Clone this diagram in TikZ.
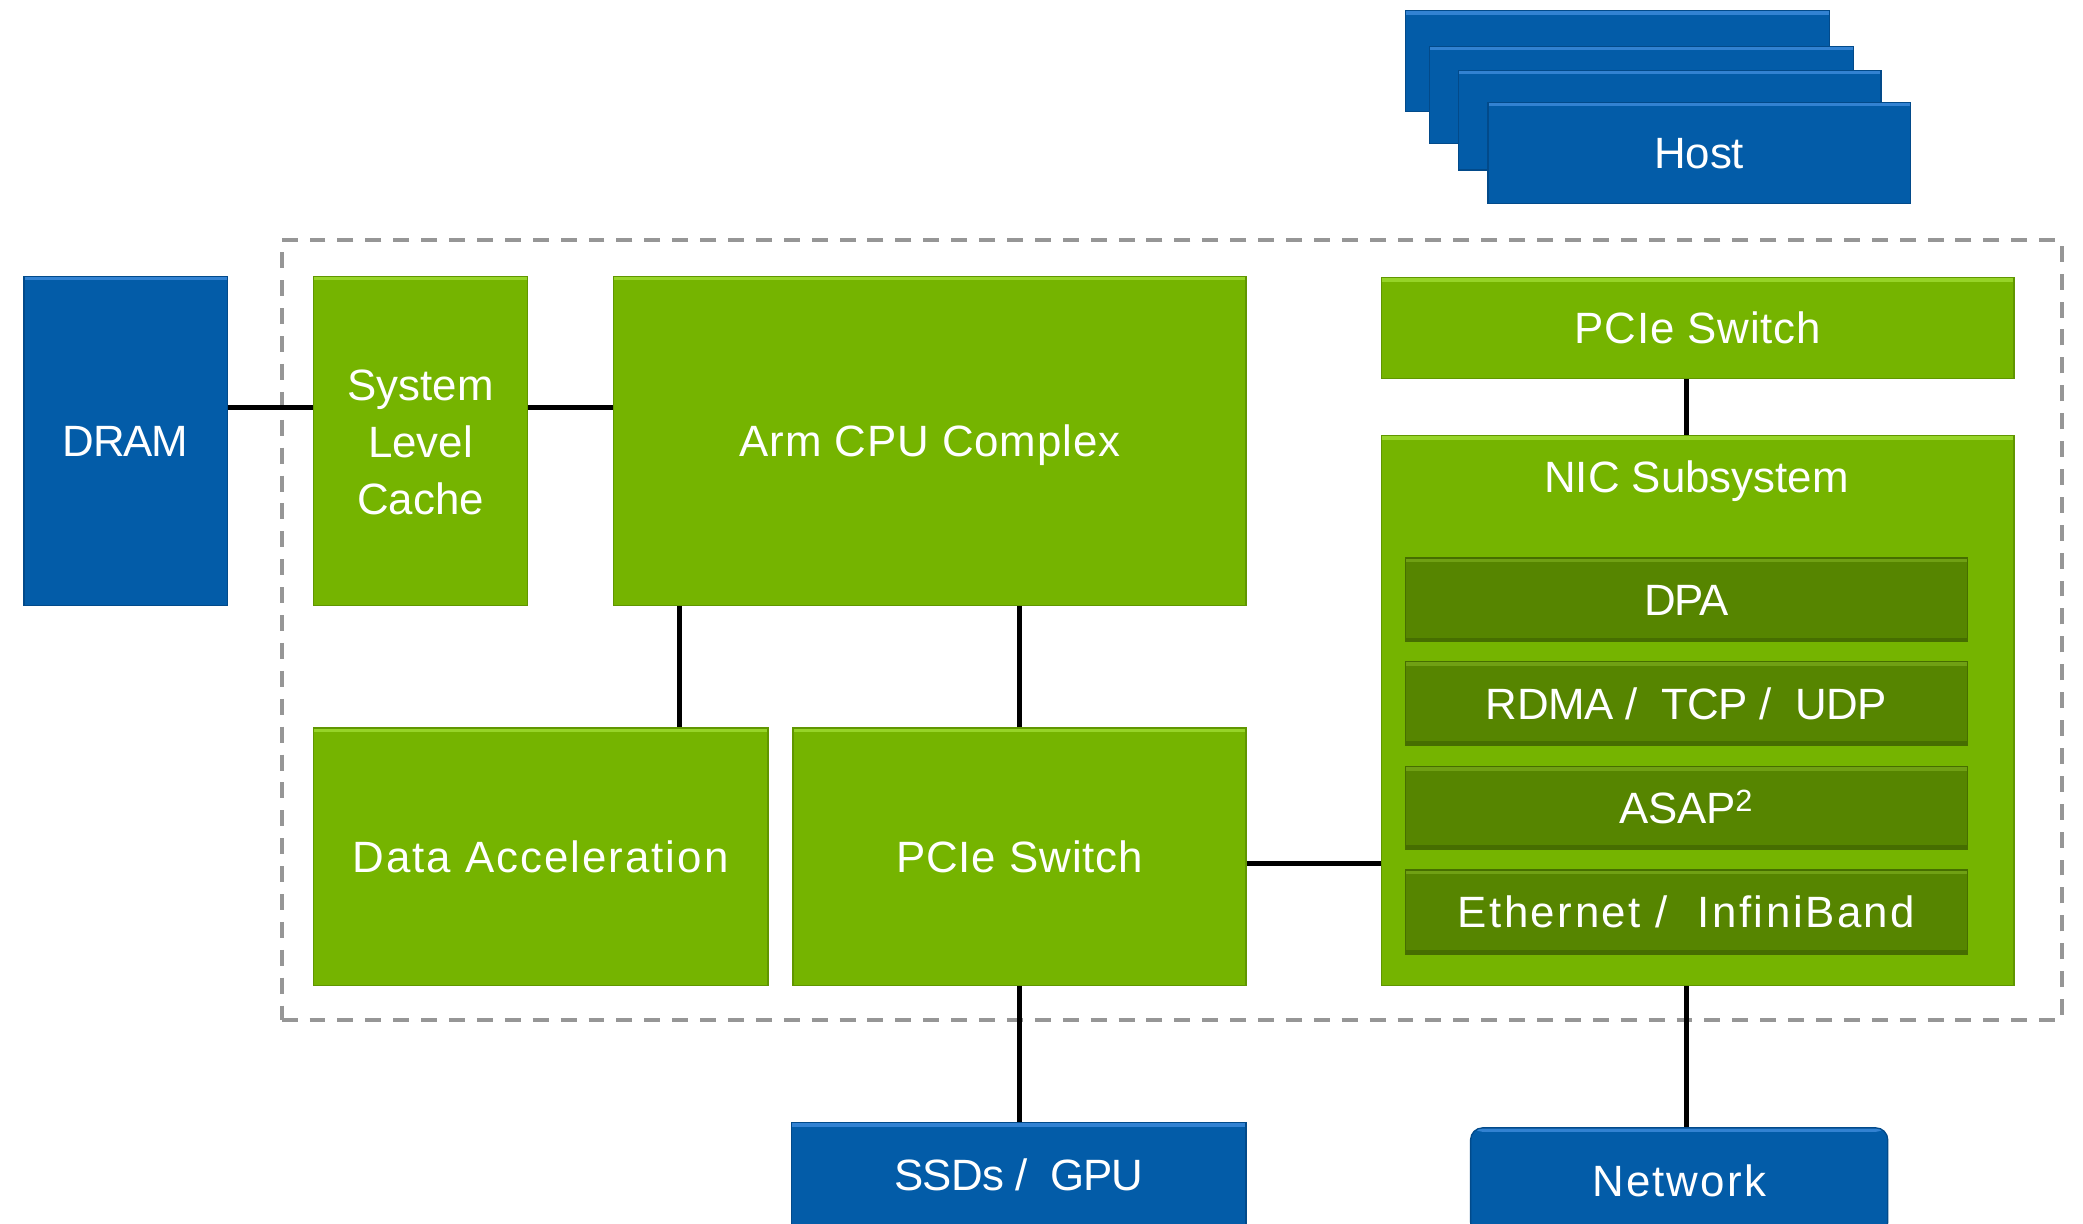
\documentclass[tikz,border=0pt]{standalone}
\usepackage{fontspec}
\setmainfont{Liberation Sans}
\usetikzlibrary{calc}

\definecolor{nvgreen}{RGB}{117,180,0}
\definecolor{nvgreenhi}{RGB}{150,212,40}
\definecolor{nvgreenedge}{RGB}{96,150,0}
\definecolor{nvdark}{RGB}{86,133,0}
\definecolor{nvdarkhi}{RGB}{112,160,20}
\definecolor{nvdarkedge}{RGB}{70,110,0}
\definecolor{nvblue}{RGB}{3,92,168}
\definecolor{nvbluehi}{RGB}{50,130,210}
\definecolor{nvblueedge}{RGB}{2,74,138}
\definecolor{framegray}{RGB}{150,150,150}

% tracked text: #1 = letter spacing (percent of font size), #2 = text
\newcommand{\trk}[2]{{\addfontfeatures{LetterSpace=#1}#2}}

\tikzset{
  lbl/.style={inner sep=0pt, text=white, align=center,
    font=\fontsize{33}{43}\selectfont},
  capline/.style={text height=23.6pt, text depth=0pt},
  blk/.style={rectangle, lbl, capline, line width=1pt},
  gbox/.style={blk, fill=nvgreen, draw=nvgreenedge,
    path picture={\fill[nvgreenhi] (path picture bounding box.north west)
      rectangle ([yshift=-3pt]path picture bounding box.north east);}},
  dbox/.style={blk, fill=nvdark, draw=nvdarkedge,
    path picture={\fill[nvdarkhi] (path picture bounding box.north west)
      rectangle ([yshift=-3pt]path picture bounding box.north east);
      \fill[nvdarkedge] (path picture bounding box.south west)
      rectangle ([yshift=3pt]path picture bounding box.south east);}},
  bbox/.style={blk, fill=nvblue, draw=nvblueedge,
    path picture={\fill[nvbluehi] (path picture bounding box.north west)
      rectangle ([yshift=-3pt]path picture bounding box.north east);}},
  link/.style={line width=4pt, black},
  chipframe/.style={draw=framegray, line width=3pt, dash pattern=on 12pt off 9pt}
}

\begin{document}
\begin{tikzpicture}[x=1pt, y=-1pt]
  \useasboundingbox (0,0) rectangle (1568,921);
  \clip (0,0) rectangle (1568,921);
  \fill[white] (0,0) rectangle (1568,921);

  % chip boundary
  \node[chipframe, rectangle, minimum width=1340pt, minimum height=587pt] (chip) at (882,474.5) {};

  % host stack
  \node[bbox, minimum width=319pt, minimum height=76pt] (host1) at (1217.5,46) {};
  \node[bbox, minimum width=319pt, minimum height=73pt] (host2) at (1235.5,71.5) {};
  \node[bbox, minimum width=318pt, minimum height=75pt] (host3) at (1257,90.5) {};
  \node[bbox, minimum width=318pt, minimum height=76pt] (host4) at (1279,115) {Host};

  % memory side
  \node[bbox, minimum width=153pt, minimum height=248pt] (dram) at (94.5,332) {\trk{-3}{DRAM}};
  \node[gbox, minimum width=161pt, minimum height=248pt] (slc) at (316.5,332) {};
  \node[lbl] (slctext) at (316.5,333) {System\\Level\\Cache};
  \node[gbox, minimum width=476pt, minimum height=248pt] (cpu) at (700,332) {\trk{2}{Arm CPU Complex}};

  \node[gbox, minimum width=342pt, minimum height=194pt] (accel) at (407,645) {\trk{4.5}{Data Acceleration}};
  \node[gbox, minimum width=341pt, minimum height=194pt] (pcie) at (767.5,645) {\trk{2}{PCIe Switch}};

  % NIC side
  \node[gbox, minimum width=476pt, minimum height=76pt] (pcietop) at (1278,247) {\trk{2}{PCIe Switch}};
  \node[gbox, minimum width=476pt, minimum height=414pt] (nic) at (1278,535) {};
  \node[lbl, capline] (nictitle) at (1277,359) {NIC Subsystem};
  \node[dbox, minimum width=423pt, minimum height=63pt] (dpa) at (1269.5,451.5) {\trk{-3}{DPA}};
  \node[dbox, minimum width=423pt, minimum height=63pt] (rdma) at (1269.5,529.5) {\trk{-1}{RDMA /\ \ TCP /\ \ UDP}};
  \node[dbox, minimum width=423pt, minimum height=62pt] (asap) at (1269.5,608) {\trk{-1}{ASAP}\textsuperscript{2}};
  \node[dbox, minimum width=423pt, minimum height=63pt] (eth) at (1269.5,686.5) {\trk{5.8}{Ethernet /\ \ InfiniBand}};

  % external endpoints
  \node[bbox, minimum width=342pt, minimum height=78pt] (ssd) at (767,884) {\trk{-2}{SSDs /\ \ GPU}};
  \node[bbox, rounded corners=9pt, minimum width=314pt, minimum height=80pt] (net) at (1264,889) {\trk{5}{Network}};

  % connections
  \draw[link] ([yshift=25pt]dram.east) -- ([yshift=25pt]slc.west);
  \draw[link] ([yshift=25pt]slc.east) -- ([yshift=25pt]cpu.west);
  \draw[link] ([xshift=50pt]cpu.south west) -- ([xshift=50pt]cpu.south west |- accel.north);
  \draw[link] (pcie.north) -- (pcie.north |- cpu.south);
  \draw[link] ([yshift=-5pt]pcie.east) -- ([yshift=-5pt]pcie.east -| nic.west);
  \draw[link] (pcietop.south -| dpa.north) -- (nic.north -| dpa.north);
  \draw[link] (nic.south -| eth.south) -- (net.north -| eth.south);
  \draw[link] (pcie.south) -- (pcie.south |- ssd.north);
\end{tikzpicture}
\end{document}
